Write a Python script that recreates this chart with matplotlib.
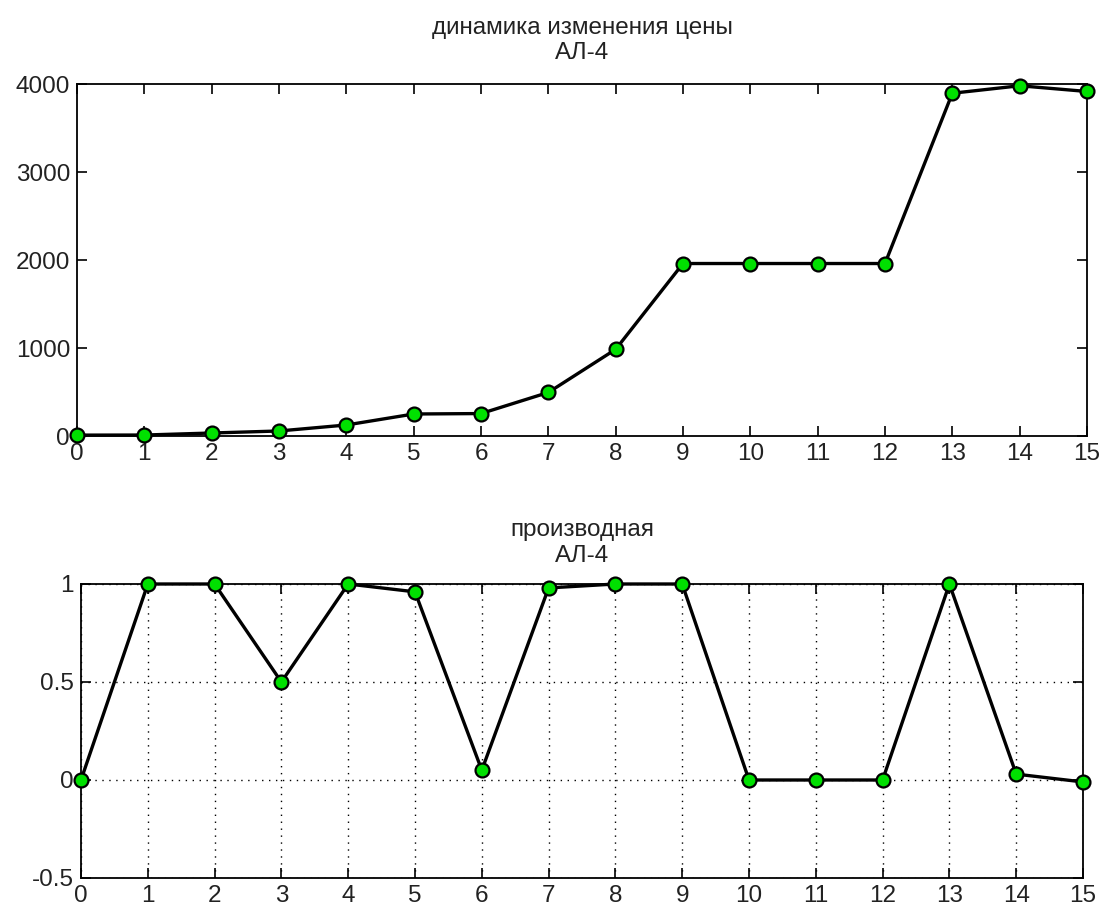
import matplotlib
matplotlib.use("Agg")
import matplotlib.pyplot as plt
import numpy as np

plt.rcParams['font.family'] = ['Liberation Sans', 'DejaVu Sans']

x_vals = list(range(16))
price = [10, 11, 34, 57, 125, 250, 255, 495, 985, 1960, 1960, 1960, 1960, 3895, 3980, 3915]
deriv = [0.0, 1.0, 1.0, 0.5, 1.0, 0.96, 0.05, 0.98, 1.0, 1.0, 0.0, 0.0, 0.0, 1.0, 0.03, -0.01]

title_top = "динамика изменения цены\nАЛ-4"
title_bot = "производная\nАЛ-4"
yticks_top = [0, 1000, 2000, 3000, 4000]
yticks_bot = [-0.5, 0, 0.5, 1]
ytick_labels_bot = ["-0.5", "0", "0.5", "1"]

W, H = 1101, 910
fig = plt.figure(figsize=(W / 100, H / 100), dpi=100)

def frac(l, t, r, b):
    return [l / W, 1 - b / H, (r - l) / W, (b - t) / H]

ax1 = fig.add_axes(frac(77, 84, 1087, 436))
ax2 = fig.add_axes(frac(81, 584, 1083, 878))

fs = 17.5
green = '#00E000'
for ax in (ax1, ax2):
    ax.tick_params(direction='in', length=7, width=1.2, top=True, right=True,
                   labelsize=fs, colors='black')
    ax.tick_params(axis='x', pad=5)
    ax.tick_params(axis='y', pad=5)
    for s in ax.spines.values():
        s.set_linewidth(1.3)
    ax.set_xlim(0, 15)
    ax.set_xticks(x_vals)
    for lab in ax.get_xticklabels() + ax.get_yticklabels():
        lab.set_color('#222222')

ax1.plot(x_vals, price, color='black', lw=2.4, marker='o', ms=10,
         mfc=green, mec='black', mew=1.6, clip_on=False, zorder=5)
ax1.set_ylim(0, 4000)
ax1.set_yticks(yticks_top)
ax1.set_title(title_top, fontsize=fs, pad=18, linespacing=1.2, color='#222222')

ax2.plot(x_vals, deriv, color='black', lw=2.4, marker='o', ms=10,
         mfc=green, mec='black', mew=1.6, clip_on=False, zorder=5)
ax2.set_ylim(-0.5, 1)
ax2.set_yticks(yticks_bot)
ax2.set_yticklabels(ytick_labels_bot)
for lab in ax2.get_yticklabels():
    lab.set_color('#222222')
ax2.grid(True, color='black', linestyle=(0, (1, 4)), linewidth=1.0)
ax2.set_title(title_bot, fontsize=fs, pad=16, linespacing=1.2, color='#222222')

fig.savefig("out.png", dpi=100)
